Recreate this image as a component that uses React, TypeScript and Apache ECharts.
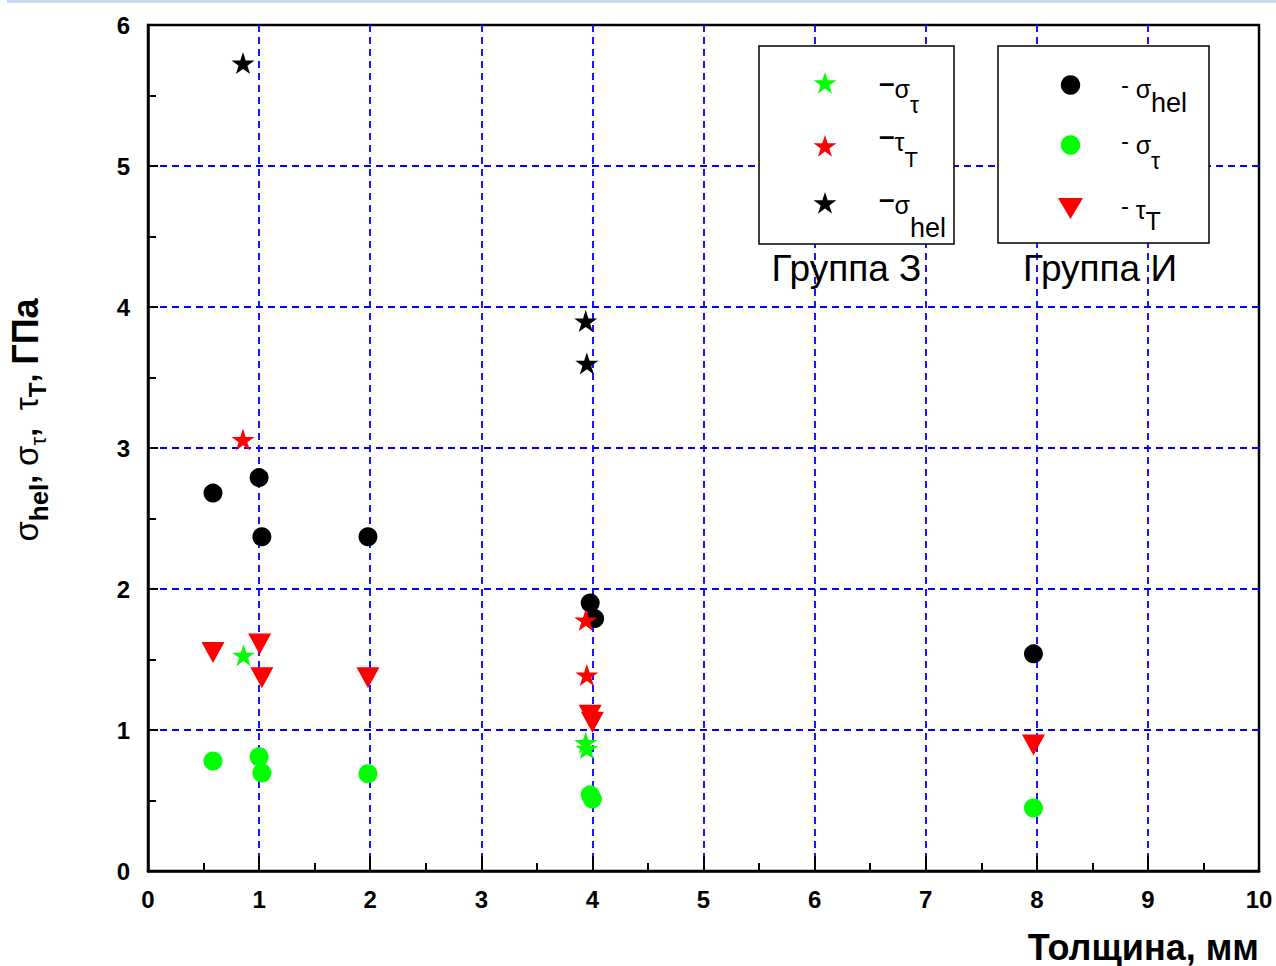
import React, { useEffect, useRef } from "react";
import * as echarts from "echarts";

// ---- data (thickness, mm ; stress, GPa) ----
const groupZSigmaHel: [number, number][] = [[0.855, 5.73], [3.94, 3.9], [3.95, 3.6]];
const groupZTauT: [number, number][] = [[0.855, 3.06], [3.94, 1.78], [3.95, 1.39]];
const groupZSigmaTau: [number, number][] = [[0.86, 1.53], [3.94, 0.91], [3.95, 0.87]];

const groupISigmaHel: [number, number][] = [
  [0.585, 2.68], [1.0, 2.79], [1.025, 2.37], [1.98, 2.37], [3.98, 1.9], [4.02, 1.79], [7.97, 1.54],
];
const groupISigmaTau: [number, number][] = [
  [0.585, 0.78], [1.0, 0.81], [1.025, 0.695], [1.98, 0.69], [3.98, 0.54], [4.0, 0.51], [7.97, 0.447],
];
const groupITauT: [number, number][] = [
  [0.585, 1.55], [1.005, 1.61], [1.025, 1.37], [1.98, 1.37], [3.98, 1.105], [4.0, 1.055], [7.97, 0.894],
];

const xTitle = "Толщина, мм";
const groupZLabel = "Группа З";
const groupILabel = "Группа И";

const FONT = "'Liberation Sans', Arial, Helvetica, sans-serif";
const STAR =
  "path://M0,-100L22.45,-30.9L95.1,-30.9L36.3,11.8L58.8,80.9L0,38.2L-58.8,80.9L-36.3,11.8L-95.1,-30.9L-22.45,-30.9Z";

function starPts(cx: number, cy: number, R: number): number[][] {
  const pts: number[][] = [];
  for (let i = 0; i < 10; i++) {
    const r = i % 2 === 0 ? R : R * 0.382;
    const a = (i * Math.PI) / 5;
    pts.push([cx + r * Math.sin(a), cy - r * Math.cos(a)]);
  }
  return pts;
}

const legendRich = {
  dz: { fontSize: 28, fontWeight: "bold", fontFamily: FONT, verticalAlign: "top", lineHeight: 28, padding: [-5, 0, 0, 0] },
  dr: { fontSize: 24, fontFamily: FONT, verticalAlign: "top", lineHeight: 24, padding: [-1, 0, 0, 0] },
  m: { fontSize: 25, fontFamily: FONT, verticalAlign: "top", lineHeight: 25, padding: [3, 0, 0, 0] },
  zt: { fontSize: 23, fontFamily: FONT, verticalAlign: "top", lineHeight: 23, padding: [20, 0, 0, 0] },
  zT: { fontSize: 22, fontFamily: FONT, verticalAlign: "top", lineHeight: 22, padding: [22, 0, 0, 0] },
  zh: { fontSize: 27, fontFamily: FONT, verticalAlign: "top", lineHeight: 27, padding: [25, 0, 0, 0] },
  ih: { fontSize: 27, fontFamily: FONT, verticalAlign: "top", lineHeight: 27, padding: [16, 0, 0, 0] },
  it: { fontSize: 23, fontFamily: FONT, verticalAlign: "top", lineHeight: 23, padding: [20, 0, 0, 0] },
  iT: { fontSize: 25, fontFamily: FONT, verticalAlign: "top", lineHeight: 25, padding: [14, 0, 0, 0] },
};

const titleRich = {
  s: { fontSize: 33, fontFamily: FONT, verticalAlign: "top", lineHeight: 33, padding: [3, 0, 0, 0] },
  c: { fontSize: 32, fontWeight: "bold", fontFamily: FONT, verticalAlign: "top", lineHeight: 32, padding: [3, 0, 0, 0] },
  h: { fontSize: 26, fontWeight: "bold", fontFamily: FONT, verticalAlign: "top", lineHeight: 26, padding: [19, 0, 0, 0] },
  t: { fontSize: 22, fontFamily: FONT, verticalAlign: "top", lineHeight: 22, padding: [20, 0, 0, 0] },
  T: { fontSize: 24, fontWeight: "bold", fontFamily: FONT, verticalAlign: "top", lineHeight: 24, padding: [18, 0, 0, 0] },
  g: { fontSize: 36, fontWeight: "bold", fontFamily: FONT, verticalAlign: "top", lineHeight: 36, padding: [0, 0, 0, 0] },
};

export default function App() {
  const ref = useRef<HTMLDivElement>(null);

  useEffect(() => {
    if (!ref.current) return;
    const chart = echarts.init(ref.current, null, { renderer: "svg" });

    const axisCommon = {
      axisLine: { show: true, lineStyle: { color: "#000", width: 2.5 } },
      axisLabel: { color: "#000", fontSize: 24, fontWeight: "bold", fontFamily: FONT },
      splitLine: {
        show: true,
        showMinLine: false,
        showMaxLine: false,
        lineStyle: { color: "#0000ff", width: 1.8, type: [7, 5] },
      },
    };

    const legendZ = [
      { pts: starPts(825, 84, 12), color: "#00ff00", top: 73, text: "{dz|–}{m|σ}{zt|τ}" },
      { pts: starPts(825, 147, 12), color: "#ff0000", top: 126, text: "{dz|–}{m|τ}{zT|T}" },
      { pts: starPts(825, 204, 12), color: "#000000", top: 189, text: "{dz|–}{m|σ}{zh|hel}" },
    ];

    const graphic: any[] = [
      { type: "rect", z: 1, shape: { x: 7, y: 0, width: 1269, height: 3 }, style: { fill: "#c6d9f0" } },
      // legend boxes
      { type: "rect", z: 10, shape: { x: 759, y: 46, width: 195, height: 198 }, style: { fill: "#fff", stroke: "#000", lineWidth: 1.5 } },
      { type: "rect", z: 10, shape: { x: 998, y: 46, width: 211, height: 197 }, style: { fill: "#fff", stroke: "#000", lineWidth: 1.5 } },
      ...legendZ.map((l) => ({ type: "polygon", z: 11, shape: { points: l.pts }, style: { fill: l.color } })),
      ...legendZ.map((l) => ({
        type: "text", z: 11, x: 879, y: l.top,
        style: { text: l.text, rich: legendRich, textVerticalAlign: "top", textAlign: "left", fill: "#000" },
      })),
      { type: "circle", z: 11, shape: { cx: 1070.5, cy: 85, r: 9.7 }, style: { fill: "#000" } },
      { type: "circle", z: 11, shape: { cx: 1070.5, cy: 145, r: 9.7 }, style: { fill: "#00ff00" } },
      { type: "polygon", z: 11, shape: { points: [[1058, 198], [1083, 198], [1070.5, 219]] }, style: { fill: "#ff0000" } },
      { type: "text", z: 11, x: 1121, y: 73, style: { text: "{dr|- }{m|σ}{ih|hel}", rich: legendRich, textVerticalAlign: "top", fill: "#000" } },
      { type: "text", z: 11, x: 1121, y: 129, style: { text: "{dr|- }{m|σ}{it|τ}", rich: legendRich, textVerticalAlign: "top", fill: "#000" } },
      { type: "text", z: 11, x: 1121, y: 194, style: { text: "{dr|- }{m|τ}{iT|T}", rich: legendRich, textVerticalAlign: "top", fill: "#000" } },
      // group captions
      { type: "text", z: 11, x: 846.5, y: 268, style: { text: groupZLabel, fontSize: 37, fontFamily: FONT, fill: "#000", textAlign: "center", textVerticalAlign: "middle" } },
      { type: "text", z: 11, x: 1100, y: 268, style: { text: groupILabel, fontSize: 37, fontFamily: FONT, fill: "#000", textAlign: "center", textVerticalAlign: "middle" } },
      // axis titles
      { type: "text", z: 11, x: 1259, y: 947, style: { text: xTitle, fontSize: 36, fontWeight: "bold", fontFamily: FONT, fill: "#000", textAlign: "right", textVerticalAlign: "middle" } },
      {
        type: "text", z: 11, x: 7, y: 420, rotation: Math.PI / 2,
        style: {
          text: "{s|σ}{h|hel}{c|, }{s|σ}{t|τ}{c|,  }{s|τ}{T|T}{c|, }{g|ГПа}",
          rich: titleRich, textAlign: "center", textVerticalAlign: "top", fill: "#000",
        },
      },
    ];

    const op = { opacity: 1 };

    chart.setOption({
      animation: false,
      backgroundColor: "#fff",
      textStyle: { fontFamily: FONT },
      grid: {
        left: 148, right: 17, top: 25, bottom: 95,
        show: true, borderColor: "#000", borderWidth: 2.5, backgroundColor: "transparent",
        containLabel: false, outerBoundsMode: "none",
      },
      xAxis: {
        type: "value", min: 0, max: 10, interval: 1,
        ...axisCommon,
        axisTick: { show: true, inside: true, length: 15, lineStyle: { color: "#000", width: 2 } },
        minorTick: { show: true, splitNumber: 2, length: 8, lineStyle: { color: "#000", width: 2 } },
        axisLabel: { ...axisCommon.axisLabel, margin: 16 },
      },
      yAxis: {
        type: "value", min: 0, max: 6, interval: 1,
        ...axisCommon,
        axisTick: { show: true, inside: true, length: 10, lineStyle: { color: "#000", width: 2 } },
        minorTick: { show: true, splitNumber: 2, length: 8, lineStyle: { color: "#000", width: 2 } },
        axisLabel: { ...axisCommon.axisLabel, margin: 18 },
      },
      graphic,
      series: [
        { name: "Группа И σhel", type: "scatter", data: groupISigmaHel, symbol: "circle", symbolSize: 19, itemStyle: { color: "#000", ...op } },
        { name: "Группа И στ", type: "scatter", data: groupISigmaTau, symbol: "circle", symbolSize: 19, itemStyle: { color: "#00ff00", ...op } },
        { name: "Группа И τT", type: "scatter", data: groupITauT, symbol: "triangle", symbolRotate: 180, symbolSize: [23, 21], itemStyle: { color: "#ff0000", ...op } },
        { name: "Группа З σhel", type: "scatter", data: groupZSigmaHel, symbol: STAR, symbolSize: [23, 22], itemStyle: { color: "#000", ...op } },
        { name: "Группа З τT", type: "scatter", data: groupZTauT, symbol: STAR, symbolSize: [23, 22], itemStyle: { color: "#ff0000", ...op } },
        { name: "Группа З στ", type: "scatter", data: groupZSigmaTau, symbol: STAR, symbolSize: [23, 22], itemStyle: { color: "#00ff00", ...op } },
      ],
    });

    return () => chart.dispose();
  }, []);

  return (
    <div
      ref={ref}
      style={{ position: "fixed", left: 0, top: 0, width: 1276, height: 966, background: "#fff" }}
    />
  );
}
